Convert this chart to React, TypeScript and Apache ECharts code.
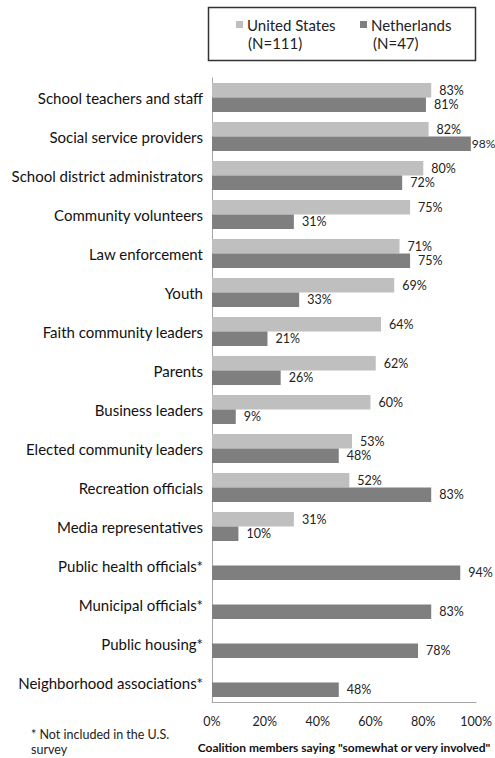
import React, { useEffect, useRef } from "react";
import * as echarts from "echarts";

const categories = [
  "School teachers and staff",
  "Social service providers",
  "School district administrators",
  "Community volunteers",
  "Law enforcement",
  "Youth",
  "Faith community leaders",
  "Parents",
  "Business leaders",
  "Elected community leaders",
  "Recreation officials",
  "Media representatives",
  "Public health officials*",
  "Municipal officials*",
  "Public housing*",
  "Neighborhood associations*",
];
const usValues = [83, 82, 80, 75, 71, 69, 64, 62, 60, 53, 52, 31, null, null, null, null];
const nlValues = [81, 98, 72, 31, 75, 33, 21, 26, 9, 48, 83, 10, 94, 83, 78, 48];
const xTicks = [0, 20, 40, 60, 80, 100];
const seriesNames = ["United States", "Netherlands"];
const seriesN = ["(N=111)", "(N=47)"];
const footnote = "* Not included in the U.S.\nsurvey";
const axisTitle = 'Coalition members saying "somewhat or very involved"';

const FONT = "Lato";
const US_COLOR = "#bfbfbf";
const NL_COLOR = "#7f7f7f";

export default function App() {
  const ref = useRef<HTMLDivElement>(null);
  useEffect(() => {
    if (!ref.current) return;
    const chart = echarts.init(ref.current, null, { renderer: "svg" });
    const labelCfg = {
      show: true,
      position: "right",
      distance: 8,
      formatter: (p: any) => (p.value == null ? "" : p.value + "%"),
      color: "#222",
      fontSize: 12.5,
      fontFamily: FONT,
    };
    const nlData = nlValues.map((v) =>
      v != null && v >= 97
        ? { value: v, label: { distance: 1, fontSize: 12 } }
        : v
    );
    chart.setOption({
      animation: false,
      textStyle: { fontFamily: FONT },
      grid: { left: 212, right: 17, top: 78, bottom: 53, containLabel: false },
      legend: [
        {
          data: [seriesNames[0]],
          left: 236,
          top: 17,
          itemWidth: 7,
          itemHeight: 7,
          icon: "rect",
          itemGap: 0,
          padding: 0,
          textStyle: { fontSize: 15, color: "#222", fontFamily: FONT, padding: [0, 0, 0, -1] },
        },
        {
          data: [seriesNames[1]],
          left: 360,
          top: 17,
          itemWidth: 7,
          itemHeight: 7,
          icon: "rect",
          itemGap: 0,
          padding: 0,
          textStyle: { fontSize: 15, color: "#222", fontFamily: FONT, padding: [0, 0, 0, -1] },
        },
      ],
      xAxis: {
        type: "value",
        min: 0,
        max: 100,
        interval: 20,
        axisLine: { show: true, lineStyle: { color: "#a6a6a6", width: 1 } },
        axisTick: { show: false },
        splitLine: { show: false },
        axisLabel: {
          formatter: (v: number) => (xTicks.includes(v) ? v + "%" : ""),
          color: "#222",
          fontSize: 12.5,
          margin: 13,
          fontFamily: FONT,
        },
        name: axisTitle,
        nameLocation: "middle",
        nameGap: 39,
        nameTextStyle: { fontSize: 12, fontWeight: "bold", color: "#111", fontFamily: FONT },
      },
      yAxis: {
        type: "category",
        data: categories,
        inverse: true,
        axisLine: { show: true, lineStyle: { color: "#a6a6a6", width: 1 } },
        axisTick: { show: false },
        axisLabel: { color: "#111", fontSize: 15, margin: 9, fontFamily: FONT },
      },
      series: [
        {
          name: seriesNames[0],
          type: "bar",
          data: usValues,
          itemStyle: { color: US_COLOR },
          barWidth: 14.5,
          barGap: "0%",
          label: labelCfg,
        },
        {
          name: seriesNames[1],
          type: "bar",
          data: nlData,
          itemStyle: { color: NL_COLOR },
          barWidth: 14.5,
          barGap: "0%",
          label: labelCfg,
        },
      ],
      graphic: [
        {
          type: "rect",
          shape: { x: 208.5, y: 7.5, width: 267, height: 53 },
          style: { fill: "none", stroke: "#333", lineWidth: 1.5 },
        },
        {
          type: "text",
          x: 248,
          y: 43,
          style: { text: seriesN[0], fontSize: 15, fill: "#222", fontFamily: FONT, textVerticalAlign: "middle" },
        },
        {
          type: "text",
          x: 373,
          y: 43,
          style: { text: seriesN[1], fontSize: 15, fill: "#222", fontFamily: FONT, textVerticalAlign: "middle" },
        },
        {
          type: "text",
          x: 31,
          y: 727,
          style: { text: footnote, fontSize: 12.5, lineHeight: 15, fill: "#222", fontFamily: FONT },
        },
      ],
    });
    return () => chart.dispose();
  }, []);
  return <div ref={ref} style={{ width: 495, height: 758, position: "absolute", left: 0, top: 0 }} />;
}
